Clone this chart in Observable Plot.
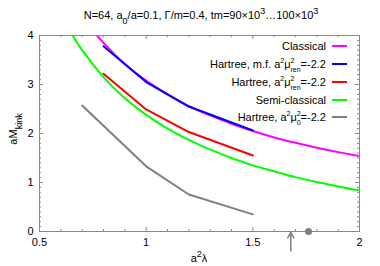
<!DOCTYPE html>
<html><head><meta charset="utf-8">
<script src="https://cdn.jsdelivr.net/npm/d3@7"></script>
<script src="https://cdn.jsdelivr.net/npm/@observablehq/plot@0.6"></script>
<style>
body{margin:0;background:#fff}
svg{font-family:"Liberation Sans",Arial,Helvetica,sans-serif}
</style>
</head><body><div id="chart"></div>
<script>
// ---- data ----
const classicalX = [0.75, 0.8, 0.9, 1.0, 1.1, 1.2, 1.3, 1.4, 1.5, 1.6, 1.7, 1.8, 1.9, 2.0];
const classicalY = [4.10, 3.85, 3.42, 3.08, 2.80, 2.56, 2.37, 2.20, 2.05, 1.92, 1.81, 1.71, 1.62, 1.54];
const semiX = [0.64, 0.7, 0.8, 0.9, 1.0, 1.1, 1.2, 1.3, 1.4, 1.5, 1.6, 1.7, 1.8, 1.9, 2.0];
const semiY = [4.11, 3.70, 3.15, 2.72, 2.38, 2.10, 1.87, 1.67, 1.50, 1.35, 1.23, 1.11, 1.01, 0.92, 0.84];
const hartreeMfX = [0.8, 1.0, 1.2, 1.5];
const hartreeMfY = [3.78, 3.05, 2.55, 2.06];
const hartreeX = [0.8, 1.0, 1.2, 1.5];
const hartreeY = [3.22, 2.49, 2.03, 1.55];
const hartree0X = [0.7, 1.0, 1.2, 1.5];
const hartree0Y = [2.57, 1.33, 0.755, 0.35];
const arrowX = [1.678];
const dotX = [1.761];
const xMajor = [0.5, 1, 1.5, 2];
const yMajor = [0, 1, 2, 3, 4];
const xMinor = [0.6,0.7,0.8,0.9,1.1,1.2,1.3,1.4,1.6,1.7,1.8,1.9];
const yMinor = d3.range(1, 40).filter(i => i % 10 !== 0).map(i => i / 10);

const series = [
  {name: "Classical", color: "#ff00ff", x: classicalX, y: classicalY, curve: "natural"},
  {name: "HartreeMf", color: "#0000ff", x: hartreeMfX, y: hartreeMfY, curve: "linear"},
  {name: "Hartree", color: "#ff0000", x: hartreeX, y: hartreeY, curve: "linear"},
  {name: "Semi", color: "#00ff00", x: semiX, y: semiY, curve: "natural"},
  {name: "Hartree0", color: "#808080", x: hartree0X, y: hartree0Y, curve: "linear"}
];

// ---- layout ----
const W = 380, H = 266, mL = 39, mR = 21, mT = 35, mB = 35;
const pW = W - mL - mR, pH = H - mT - mB;
const axisColor = "#888";

const lineMarks = series.map(s => Plot.line(s.x.map((x, i) => ({x, y: s.y[i]})),
  {x: "x", y: "y", stroke: s.color, strokeWidth: 2, curve: s.curve, clip: true}));

const chart = Plot.plot({
  width: W, height: H,
  marginLeft: mL, marginRight: mR, marginTop: mT, marginBottom: mB,
  style: {fontFamily: '"Liberation Sans",Arial,sans-serif', fontSize: "11px", background: "white", color: "black"},
  x: {domain: [0.5, 2]},
  y: {domain: [0, 4]},
  marks: [
    // ticks (inward, on all four sides)
    Plot.ruleX(xMinor, {x: d => d, insetTop: pH - 2, stroke: axisColor}),
    Plot.ruleX(xMinor, {x: d => d, insetBottom: pH - 2, stroke: axisColor}),
    Plot.ruleX(xMajor, {x: d => d, insetTop: pH - 4, stroke: axisColor}),
    Plot.ruleX(xMajor, {x: d => d, insetBottom: pH - 4, stroke: axisColor}),
    Plot.ruleY(yMinor, {y: d => d, insetRight: pW - 2, stroke: axisColor}),
    Plot.ruleY(yMinor, {y: d => d, insetLeft: pW - 2, stroke: axisColor}),
    Plot.ruleY(yMajor, {y: d => d, insetRight: pW - 4, stroke: axisColor}),
    Plot.ruleY(yMajor, {y: d => d, insetLeft: pW - 4, stroke: axisColor}),
    Plot.axisX(xMajor, {tickSize: 0, tickPadding: 7, tickFormat: d => String(d), label: null, fill: "black", fontSize: 11}),
    Plot.axisY(yMajor, {tickSize: 0, tickPadding: 6, tickFormat: d => String(d), label: null, fill: "black", fontSize: 11}),
    ...lineMarks,
    Plot.frame({stroke: axisColor}),
    Plot.arrow(arrowX, {x1: d => d, x2: d => d, y1: -0.40, y2: -0.02, stroke: "#808080", strokeWidth: 1.5, headLength: 7, bend: 0}),
    Plot.dot(dotX, {x: d => d, y: 0, r: 3.5, fill: "#808080", stroke: "none"})
  ]
});

document.getElementById("chart").appendChild(chart);

// ---- text with sub/superscripts and the legend ----
const svg = d3.select(chart);
const font = '"Liberation Sans",Arial,sans-serif';

function richText(sel, parts, small = "9px", up = "super", down = "sub") {
  parts.forEach(p => {
    const t = sel.append("tspan").text(p.t);
    if (p.sup) t.attr("baseline-shift", up).attr("font-size", small);
    if (p.sub) t.attr("baseline-shift", down).attr("font-size", small);
    if (p.dx) t.attr("dx", p.dx);
  });
  return sel;
}

// title
richText(svg.append("text").attr("x", 201).attr("y", 19).attr("text-anchor", "middle")
  .attr("font-size", "11px").attr("font-family", font).attr("fill", "black"),
  [{t: "N=64, a"}, {t: "0", sub: true}, {t: "/a=0.1, Γ/m=0.4, tm=90×10"}, {t: "3", sup: true}, {t: "…100×10"}, {t: "3", sup: true}]);

// x label
richText(svg.append("text").attr("x", mL + pW / 2).attr("y", 262).attr("text-anchor", "middle")
  .attr("font-size", "11px").attr("font-family", font).attr("fill", "black"),
  [{t: "a"}, {t: "2", sup: true}, {t: "λ"}]);

// y label
richText(svg.append("text").attr("transform", `translate(17,${mT + pH / 2 - 4}) rotate(-90)`).attr("text-anchor", "middle")
  .attr("font-size", "11px").attr("font-family", font).attr("fill", "black"),
  [{t: "aM"}, {t: "kink", sub: true}]);

// legend
const legendParts = [
  [{t: "Classical"}],
  [{t: "Hartree, m.f. a"}, {t: "2", sup: true}, {t: "μ"}, {t: "2", sup: true}, {t: "ren", sub: true, dx: -4}, {t: "=-2.2"}],
  [{t: "Hartree, a"}, {t: "2", sup: true}, {t: "μ"}, {t: "2", sup: true}, {t: "ren", sub: true, dx: -4}, {t: "=-2.2"}],
  [{t: "Semi-classical"}],
  [{t: "Hartree, a"}, {t: "2", sup: true}, {t: "μ"}, {t: "2", sup: true}, {t: "0", sub: true, dx: -4}, {t: "=-2.2"}]
];
const legendY = [46, 64, 82, 100, 117];
series.forEach((s, i) => {
  const g = svg.append("g");
  richText(g.append("text").attr("x", 326).attr("y", legendY[i] + 4).attr("text-anchor", "end")
    .attr("font-size", "11px").attr("font-family", font).attr("fill", "black"), legendParts[i], "7px", "5px", "-4px");
  g.append("line").attr("x1", 332).attr("x2", 347).attr("y1", legendY[i]).attr("y2", legendY[i])
    .attr("stroke", s.color).attr("stroke-width", 2);
});
</script>
</body></html>
